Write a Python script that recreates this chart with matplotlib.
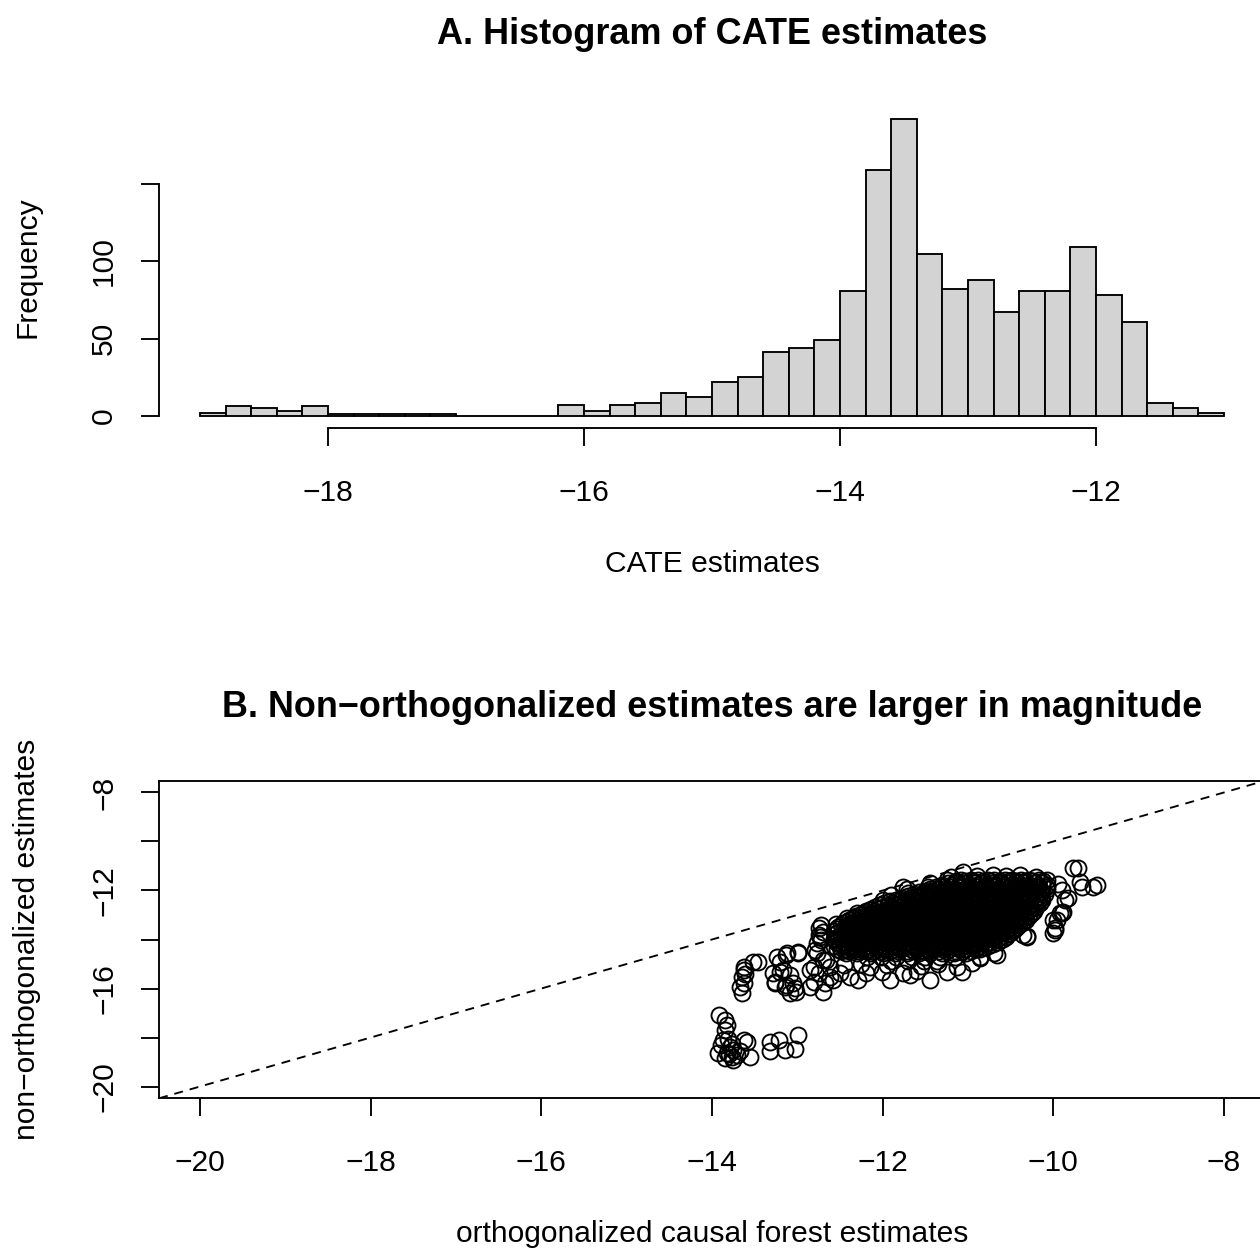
import numpy as np
import matplotlib
matplotlib.use("Agg")
import matplotlib.pyplot as plt

plt.rcParams['font.family'] = ['Liberation Sans', 'DejaVu Sans']

W, H, DPI = 1260, 1252, 180

# histogram of the non-orthogonalized CATE estimates (bins of width 0.2 from -19 to -11)
bin_lo, bin_hi, bin_w = -19.0, -11.0, 0.2
hist_counts = [2, 6, 5, 3, 6, 1, 1, 1, 1, 1,
               0, 0, 0, 0, 7, 3, 7, 8, 15, 12,
               22, 25, 41, 44, 49, 81, 159, 192, 105, 82,
               88, 67, 81, 81, 109, 78, 61, 8, 5, 2]
hist_xticks = [-18, -16, -14, -12]
hist_yticks = [0, 50, 100, 150]
hist_ylabels = ['0', '50', '100', '']

# scatter: orthogonalized (x) vs non-orthogonalized (y) estimates
low_cluster = [
    (-13.92, -17.08), (-13.85, -17.28), (-13.82, -17.49), (-13.85, -17.69), (-12.99, -17.89),
    (-13.87, -18.10), (-13.59, -18.17), (-13.63, -18.10), (-13.32, -18.17), (-13.22, -18.10),
    (-13.81, -18.05), (-13.89, -18.30), (-13.79, -18.37), (-13.76, -18.25), (-13.75, -18.50),
    (-13.67, -18.57), (-13.32, -18.57), (-13.15, -18.51), (-13.03, -18.45), (-13.93, -18.64),
    (-13.83, -18.64), (-13.77, -18.78), (-13.71, -18.71), (-13.56, -18.78), (-13.80, -18.68),
    (-13.75, -18.91), (-13.85, -18.85),
]
left_tail = [
    (-13.65, -16.19), (-13.63, -15.79), (-13.65, -15.52), (-13.63, -15.24), (-13.63, -15.11),
    (-13.52, -14.91), (-13.46, -14.91), (-13.61, -15.40), (-13.67, -15.95),
    (-13.24, -14.70), (-13.13, -14.63), (-12.99, -14.50), (-13.28, -15.38), (-13.17, -15.24),
    (-13.09, -15.45), (-13.26, -15.79), (-13.13, -15.86), (-13.03, -15.99), (-13.09, -16.19),
    (-13.01, -16.13), (-13.20, -14.91), (-13.26, -15.72), (-13.14, -15.93), (-13.05, -15.79),
    (-13.20, -15.31), (-13.12, -14.56), (-12.99, -14.56),
    (-12.75, -13.54), (-12.72, -13.41), (-12.70, -13.68), (-12.74, -13.89), (-12.75, -13.82),
    (-12.72, -14.02), (-12.77, -14.14), (-12.79, -14.43), (-12.77, -14.56), (-12.70, -14.84),
    (-12.66, -14.84), (-12.81, -15.11), (-12.85, -15.24), (-12.62, -15.11), (-12.75, -15.38),
    (-12.50, -15.38), (-12.62, -15.52), (-12.58, -15.65), (-12.81, -15.72), (-12.68, -15.79),
    (-12.85, -15.93), (-12.70, -16.13),
]
bottom_edge = [
    (-12.38, -15.52), (-12.29, -15.65), (-12.15, -15.11), (-12.01, -15.31), (-11.91, -15.65),
    (-11.76, -15.38), (-11.68, -15.45), (-11.45, -15.65), (-11.25, -15.31), (-11.13, -15.11),
    (-11.07, -15.31), (-10.86, -14.77), (-10.70, -14.56), (-12.45, -15.05), (-12.25, -15.00),
    (-11.95, -15.05), (-11.55, -15.10), (-11.35, -15.00), (-10.95, -14.95), (-12.20, -15.35),
    (-11.60, -15.30), (-10.66, -14.63), (-10.86, -14.72),
]
upper_edge = [
    (-11.72, -11.92), (-11.47, -11.85), (-11.25, -11.58), (-11.06, -11.24), (-11.45, -11.70),
    (-10.71, -11.37), (-10.39, -11.37), (-12.00, -12.39), (-11.76, -11.85), (-11.70, -12.12),
    (-12.42, -13.14), (-12.30, -12.93), (-12.15, -12.80), (-12.55, -13.35), (-11.90, -12.20),
    (-11.20, -11.45), (-10.90, -11.40), (-10.55, -11.42), (-10.20, -11.45),
]
right_edge = [
    (-9.71, -11.08), (-9.77, -11.09), (-9.49, -11.77), (-9.53, -11.85), (-9.66, -11.86),
    (-9.69, -11.64), (-9.83, -12.31), (-9.86, -12.39), (-9.89, -12.88), (-9.90, -12.92),
    (-9.92, -12.92), (-9.96, -13.20), (-10.00, -13.20), (-9.98, -13.53), (-9.98, -13.61),
    (-10.00, -13.73), (-10.31, -13.90), (-10.31, -13.86), (-10.36, -13.82), (-10.49, -13.61),
    (-9.95, -11.75), (-9.90, -12.00),
]
# dense body of the cloud, one row of x values per y level
core_rows_y = [-11.56, -11.63, -11.71, -11.78, -11.84, -11.92, -12.01, -12.08, -12.14, -12.22,
               -12.31, -12.38, -12.44, -12.52, -12.61, -12.68, -12.74, -12.82, -12.91, -12.98,
               -13.04, -13.12, -13.21, -13.28, -13.34, -13.42, -13.51, -13.58, -13.64, -13.72,
               -13.79, -13.88, -13.96, -14.02, -14.09, -14.18, -14.26, -14.32, -14.39, -14.47,
               -14.56, -14.71, -14.86]
core_rows_x = [
    [-11.08, -10.96, -10.88, -10.76, -10.69, -10.57, -10.48, -10.38, -10.29, -10.17, -10.08],
    [-11.14, -11.03, -10.94, -10.82, -10.74, -10.63, -10.52, -10.44, -10.33, -10.24, -10.12],
    [-11.24, -11.14, -11.04, -10.92, -10.84, -10.71, -10.63, -10.53, -10.42, -10.34, -10.21, -10.13],
    [-11.31, -11.20, -11.11, -10.99, -10.90, -10.79, -10.69, -10.58, -10.49, -10.39, -10.28, -10.18, -10.08],
    [-11.38, -11.30, -11.19, -11.10, -10.98, -10.91, -10.78, -10.69, -10.59, -10.50, -10.37, -10.30, -10.18, -10.09],
    [-11.44, -11.35, -11.25, -11.16, -11.05, -10.96, -10.86, -10.76, -10.66, -10.56, -10.46, -10.37, -10.26, -10.16, -10.07],
    [-11.50, -11.42, -11.30, -11.23, -11.12, -11.03, -10.92, -10.84, -10.73, -10.65, -10.53, -10.46, -10.34, -10.25, -10.14],
    [-11.57, -11.47, -11.39, -11.29, -11.20, -11.10, -11.00, -10.91, -10.81, -10.72, -10.62, -10.52, -10.43, -10.33, -10.23, -10.13],
    [-11.63, -11.53, -11.46, -11.35, -11.27, -11.16, -11.08, -10.96, -10.89, -10.78, -10.70, -10.58, -10.51, -10.39, -10.31, -10.19, -10.10],
    [-11.70, -11.60, -11.51, -11.42, -11.32, -11.23, -11.13, -11.04, -10.94, -10.85, -10.75, -10.66, -10.56, -10.46, -10.37, -10.27, -10.17],
    [-11.77, -11.67, -11.59, -11.48, -11.41, -11.29, -11.22, -11.11, -11.02, -10.91, -10.84, -10.72, -10.65, -10.53, -10.46, -10.34, -10.26, -10.14],
    [-11.84, -11.74, -11.65, -11.55, -11.46, -11.36, -11.27, -11.17, -11.08, -10.98, -10.89, -10.79, -10.70, -10.60, -10.50, -10.41, -10.31, -10.21, -10.13],
    [-11.91, -11.81, -11.73, -11.62, -11.54, -11.43, -11.35, -11.24, -11.16, -11.05, -10.98, -10.86, -10.79, -10.67, -10.60, -10.48, -10.40, -10.28, -10.18],
    [-11.98, -11.88, -11.79, -11.69, -11.60, -11.50, -11.41, -11.31, -11.21, -11.12, -11.02, -10.93, -10.83, -10.74, -10.64, -10.55, -10.45, -10.35, -10.24, -10.16],
    [-12.04, -11.94, -11.86, -11.75, -11.68, -11.56, -11.49, -11.37, -11.30, -11.19, -11.11, -10.99, -10.92, -10.81, -10.73, -10.61, -10.54, -10.42, -10.34, -10.22],
    [-12.09, -12.00, -11.90, -11.81, -11.72, -11.62, -11.53, -11.43, -11.34, -11.25, -11.15, -11.06, -10.96, -10.87, -10.78, -10.68, -10.59, -10.49, -10.40, -10.30, -10.20],
    [-12.14, -12.06, -11.95, -11.87, -11.76, -11.69, -11.58, -11.50, -11.38, -11.31, -11.20, -11.12, -11.01, -10.93, -10.82, -10.75, -10.63, -10.56, -10.44, -10.37, -10.26],
    [-12.19, -12.09, -12.00, -11.91, -11.81, -11.72, -11.63, -11.53, -11.44, -11.34, -11.25, -11.16, -11.06, -10.97, -10.87, -10.78, -10.68, -10.59, -10.49, -10.40, -10.30, -10.23],
    [-12.23, -12.13, -12.05, -11.94, -11.87, -11.75, -11.68, -11.56, -11.49, -11.37, -11.30, -11.18, -11.11, -10.99, -10.92, -10.80, -10.73, -10.61, -10.54, -10.42, -10.34, -10.25],
    [-12.27, -12.18, -12.08, -11.99, -11.90, -11.80, -11.71, -11.61, -11.52, -11.42, -11.33, -11.23, -11.14, -11.04, -10.95, -10.85, -10.76, -10.66, -10.57, -10.47, -10.38, -10.28],
    [-12.31, -12.21, -12.13, -12.02, -11.94, -11.83, -11.75, -11.64, -11.56, -11.45, -11.37, -11.26, -11.18, -11.07, -10.99, -10.88, -10.80, -10.69, -10.61, -10.49, -10.41, -10.29],
    [-12.35, -12.26, -12.16, -12.07, -11.97, -11.88, -11.78, -11.69, -11.59, -11.50, -11.40, -11.31, -11.21, -11.12, -11.02, -10.93, -10.83, -10.74, -10.64, -10.54, -10.45, -10.34],
    [-12.39, -12.29, -12.21, -12.10, -12.02, -11.91, -11.83, -11.72, -11.64, -11.53, -11.45, -11.34, -11.26, -11.15, -11.07, -10.96, -10.88, -10.77, -10.69, -10.57, -10.50, -10.39, -10.32],
    [-12.42, -12.33, -12.23, -12.14, -12.04, -11.95, -11.85, -11.76, -11.66, -11.57, -11.47, -11.38, -11.28, -11.19, -11.09, -11.00, -10.90, -10.81, -10.71, -10.61, -10.52, -10.42, -10.35],
    [-12.46, -12.36, -12.28, -12.17, -12.09, -11.98, -11.90, -11.79, -11.71, -11.60, -11.52, -11.41, -11.33, -11.22, -11.14, -11.03, -10.95, -10.84, -10.76, -10.65, -10.57, -10.45, -10.37],
    [-12.49, -12.40, -12.30, -12.21, -12.11, -12.02, -11.92, -11.83, -11.73, -11.64, -11.54, -11.45, -11.35, -11.26, -11.16, -11.07, -10.97, -10.88, -10.78, -10.69, -10.59, -10.49, -10.40],
    [-12.52, -12.42, -12.34, -12.23, -12.15, -12.04, -11.96, -11.85, -11.77, -11.66, -11.58, -11.47, -11.39, -11.28, -11.20, -11.09, -11.01, -10.90, -10.82, -10.71, -10.63, -10.51, -10.43],
    [-12.55, -12.45, -12.36, -12.26, -12.17, -12.07, -11.98, -11.88, -11.79, -11.69, -11.60, -11.50, -11.41, -11.31, -11.22, -11.12, -11.03, -10.93, -10.84, -10.74, -10.65, -10.54, -10.45],
    [-12.57, -12.47, -12.40, -12.28, -12.21, -12.09, -12.02, -11.90, -11.83, -11.71, -11.64, -11.52, -11.45, -11.33, -11.26, -11.14, -11.07, -10.95, -10.88, -10.76, -10.69, -10.57, -10.48],
    [-12.53, -12.43, -12.34, -12.24, -12.15, -12.05, -11.96, -11.86, -11.77, -11.67, -11.58, -11.48, -11.39, -11.29, -11.20, -11.10, -11.01, -10.91, -10.82, -10.72, -10.62, -10.51],
    [-12.56, -12.45, -12.38, -12.26, -12.19, -12.07, -12.00, -11.88, -11.81, -11.69, -11.62, -11.50, -11.43, -11.31, -11.24, -11.12, -11.05, -10.93, -10.86, -10.74, -10.67, -10.54],
    [-12.52, -12.42, -12.33, -12.23, -12.14, -12.04, -11.95, -11.85, -11.76, -11.66, -11.57, -11.47, -11.38, -11.28, -11.19, -11.09, -11.00, -10.90, -10.81, -10.71, -10.62, -10.56],
    [-12.57, -12.49, -12.37, -12.30, -12.18, -12.11, -11.99, -11.92, -11.80, -11.73, -11.61, -11.54, -11.42, -11.35, -11.23, -11.16, -11.04, -10.97, -10.85, -10.78, -10.66, -10.59],
    [-12.52, -12.41, -12.33, -12.22, -12.14, -12.03, -11.95, -11.84, -11.76, -11.65, -11.57, -11.46, -11.38, -11.27, -11.19, -11.08, -11.00, -10.89, -10.81, -10.70, -10.62],
    [-12.55, -12.44, -12.37, -12.25, -12.18, -12.06, -11.99, -11.87, -11.80, -11.68, -11.61, -11.49, -11.42, -11.30, -11.23, -11.11, -11.04, -10.92, -10.85, -10.73, -10.65],
    [-12.51, -12.42, -12.32, -12.23, -12.13, -12.04, -11.94, -11.85, -11.75, -11.66, -11.56, -11.47, -11.37, -11.28, -11.18, -11.09, -10.99, -10.90, -10.80, -10.71],
    [-12.57, -12.46, -12.39, -12.27, -12.20, -12.08, -12.01, -11.89, -11.82, -11.70, -11.63, -11.51, -11.44, -11.32, -11.25, -11.13, -11.06, -10.94, -10.86, -10.76],
    [-12.50, -12.41, -12.31, -12.22, -12.12, -12.03, -11.93, -11.84, -11.74, -11.65, -11.55, -11.46, -11.36, -11.27, -11.17, -11.08, -10.98, -10.89, -10.81],
    [-12.54, -12.43, -12.36, -12.24, -12.17, -12.05, -11.98, -11.86, -11.79, -11.67, -11.60, -11.48, -11.41, -11.29, -11.22, -11.10, -11.03, -10.91, -10.86],
    [-12.49, -12.39, -12.29, -12.20, -12.10, -12.01, -11.91, -11.82, -11.72, -11.63, -11.53, -11.44, -11.34, -11.25, -11.15, -11.06, -10.96],
    [-12.43, -12.30, -12.14, -12.00, -11.85, -11.72, -11.58, -11.44, -11.30, -11.16, -11.02],
    [-12.18, -12.02, -11.84, -11.66, -11.50, -11.33, -11.15],
    [-11.90, -11.70, -11.52, -11.36],
]
scatter_ticks = [-20, -18, -16, -14, -12, -10, -8]
scatter_ylabels = ['\u221220', '', '\u221216', '', '\u221212', '', '\u22128']
axis_lim = (-20, -8)

LW = 0.75          # R lwd = 1
TICK_LEN = 7.2     # half a text line
FS = 12
FS_MAIN = 14.4
MS = 6.4           # open circle size


def px_box(left, top, right, bottom):
    return [left / W, 1 - bottom / H, (right - left) / W, (bottom - top) / H]


def r_range(lo, hi):
    pad = 0.04 * (hi - lo)
    return lo - pad, hi + pad


def minus(v):
    return ('\u2212' + str(abs(v))) if v < 0 else str(v)


fig = plt.figure(figsize=(W / DPI, H / DPI), dpi=DPI)

# ---- A: histogram ----
ax1 = fig.add_axes(px_box(159, 107.6, 1265, 427.5))
edges = np.linspace(bin_lo, bin_hi, len(hist_counts) + 1)
ax1.bar(edges[:-1], hist_counts, width=bin_w, align='edge',
        color='#D3D3D3', edgecolor='black', linewidth=LW)
ax1.set_xlim(*r_range(bin_lo, bin_hi))
ax1.set_ylim(*r_range(0, max(hist_counts)))
for s in ('top', 'right'):
    ax1.spines[s].set_visible(False)
ax1.spines['left'].set_bounds(hist_yticks[0], hist_yticks[-1])
ax1.spines['bottom'].set_bounds(hist_xticks[0], hist_xticks[-1])
ax1.set_xticks(hist_xticks)
ax1.set_xticklabels([minus(v) for v in hist_xticks], va='baseline')
ax1.set_yticks(hist_yticks)
ax1.set_yticklabels(hist_ylabels, rotation=90,
                    rotation_mode='anchor', ha='center', va='baseline')

# ---- B: scatter ----
ax2 = fig.add_axes(px_box(159, 780.7, 1265, 1098.3))
groups = [low_cluster, left_tail, bottom_edge, upper_edge, right_edge]
for g in groups:
    gx, gy = zip(*g)
    ax2.plot(gx, gy, 'o', ms=MS, mfc='none', mec='black', mew=LW)
for yv, xs in zip(core_rows_y, core_rows_x):
    ax2.plot(xs, [yv] * len(xs), 'o', ms=MS, mfc='none', mec='black', mew=LW)
ax2.axline((0, 0), slope=1, color='black', lw=LW, dashes=(4.8, 3.7))
ax2.set_xlim(*r_range(*axis_lim))
ax2.set_ylim(*r_range(*axis_lim))
ax2.set_xticks(scatter_ticks)
ax2.set_xticklabels([minus(v) for v in scatter_ticks], va='baseline')
ax2.set_yticks(scatter_ticks)
ax2.set_yticklabels(scatter_ylabels, rotation=90,
                    rotation_mode='anchor', ha='center', va='baseline')

for ax in (ax1, ax2):
    for s in ax.spines.values():
        s.set_linewidth(LW)
    ax.tick_params(direction='out', length=TICK_LEN, width=LW, labelsize=FS,
                   colors='black')
    ax.tick_params(axis='x', pad=22.0)
    ax.tick_params(axis='y', pad=11.6)
    ax.patch.set_alpha(0)


def ftext(x, y, s, **kw):
    fig.text(x / W, 1 - y / H, s, **kw)


ftext(712, 44, 'A. Histogram of CATE estimates', ha='center', va='baseline',
      fontsize=FS_MAIN, fontweight='bold')
ftext(712, 571.5, 'CATE estimates', ha='center', va='baseline', fontsize=FS)
ftext(35, 267.5, 'Frequency', rotation=90, rotation_mode='anchor',
      ha='center', va='baseline', fontsize=FS)

ftext(712, 717, 'B. Non\u2212orthogonalized estimates are larger in magnitude',
      ha='center', va='baseline', fontsize=FS_MAIN, fontweight='bold')
ftext(712, 1242.3, 'orthogonalized causal forest estimates', ha='center',
      va='baseline', fontsize=FS)
ftext(35, 939.5, 'non\u2212orthogonalized estimates', rotation=90,
      rotation_mode='anchor', ha='center', va='baseline', fontsize=FS)

fig.savefig('out.png', dpi=DPI, facecolor='white')
